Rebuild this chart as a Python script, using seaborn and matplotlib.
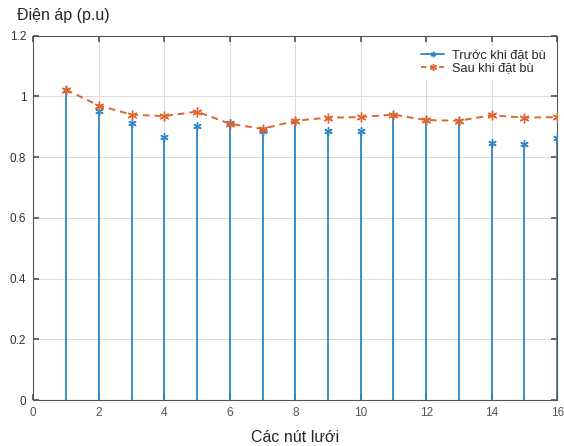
import matplotlib
matplotlib.use("Agg")
import matplotlib.pyplot as plt
import seaborn as sns
import pandas as pd
import numpy as np
from matplotlib.lines import Line2D

nodes = list(range(1, 17))
before = [1.02, 0.953, 0.912, 0.866, 0.902, 0.912, 0.887, 0.92, 0.887, 0.887,
          0.94, 0.922, 0.92, 0.845, 0.843, 0.862]
after = [1.022, 0.97, 0.94, 0.935, 0.95, 0.91, 0.893, 0.92, 0.93, 0.932,
         0.94, 0.922, 0.92, 0.938, 0.93, 0.932]
xticks = [0, 2, 4, 6, 8, 10, 12, 14, 16]
yticks = [0, 0.2, 0.4, 0.6, 0.8, 1, 1.2]
ytick_labels = ["0", "0.2", "0.4", "0.6", "0.8", "1", "1.2"]
label_before = "Trước khi đặt bù"
label_after = "Sau khi đặt bù"

sns.set_theme(style="white")
plt.rcParams['font.family'] = ['Liberation Sans', 'DejaVu Sans']

fig = plt.figure(figsize=(5.64, 4.46), dpi=100)
ax = fig.add_axes([0.059, 0.103, 0.929, 0.817])

blue = "#2C86C8"
orange = "#E0642C"
ast = (6, 2, 0)

df = pd.DataFrame({"node": nodes, "before": before, "after": after})

ax.vlines(df["node"], 0, df["before"], color=blue, lw=1.3, zorder=3)
ax.plot(df["node"], df["before"], linestyle="none", marker=ast, markersize=6,
        markeredgewidth=1.0, color=blue, zorder=4)
sns.lineplot(data=df, x="node", y="after", color=orange, lw=1.4,
             linestyle=(0, (3.5, 2.5)), marker=ast, markersize=7,
             markeredgewidth=1.0, markeredgecolor=orange, ax=ax, zorder=5)

ax.set_xlim(0, 16)
ax.set_ylim(0, 1.2)
ax.set_xticks(xticks)
ax.set_xticklabels([str(v) for v in xticks])
ax.set_yticks(yticks)
ax.set_yticklabels(ytick_labels)
ax.grid(True, color="#DADADA", lw=0.7)
ax.set_axisbelow(True)
for s in ax.spines.values():
    s.set_color("#555555")
    s.set_linewidth(0.8)
ax.tick_params(axis="both", direction="in", length=4, labelsize=8.5,
               colors="#555555", labelcolor="#333333", pad=5,
               top=True, right=True, bottom=True, left=True)
ax.tick_params(axis="x", labelcolor="#555555")
ax.set_xlabel("Các nút lưới", fontsize=11.5, labelpad=8)
ax.set_ylabel("")
fig.text(0.03, 0.965, "Điện áp (p.u)", fontsize=11.5, ha="left", va="center")

handles = [Line2D([0], [0], color=blue, lw=1.3, marker=ast, markersize=4,
                  markeredgewidth=1.0),
           Line2D([0], [0], color=orange, lw=1.3, linestyle=(0, (3, 2)),
                  marker=ast, markersize=5, markeredgewidth=1.0)]
leg = ax.legend(handles, [label_before, label_after], loc="upper left",
                frameon=True, fontsize=9.2, handlelength=1.8,
                bbox_to_anchor=(0.721, 0.99), borderpad=0.3,
                labelspacing=0.05, handletextpad=0.6)
leg.get_frame().set_edgecolor("white")
leg.get_frame().set_facecolor("white")
leg.get_frame().set_alpha(1)

fig.savefig("out.png", dpi=100)
